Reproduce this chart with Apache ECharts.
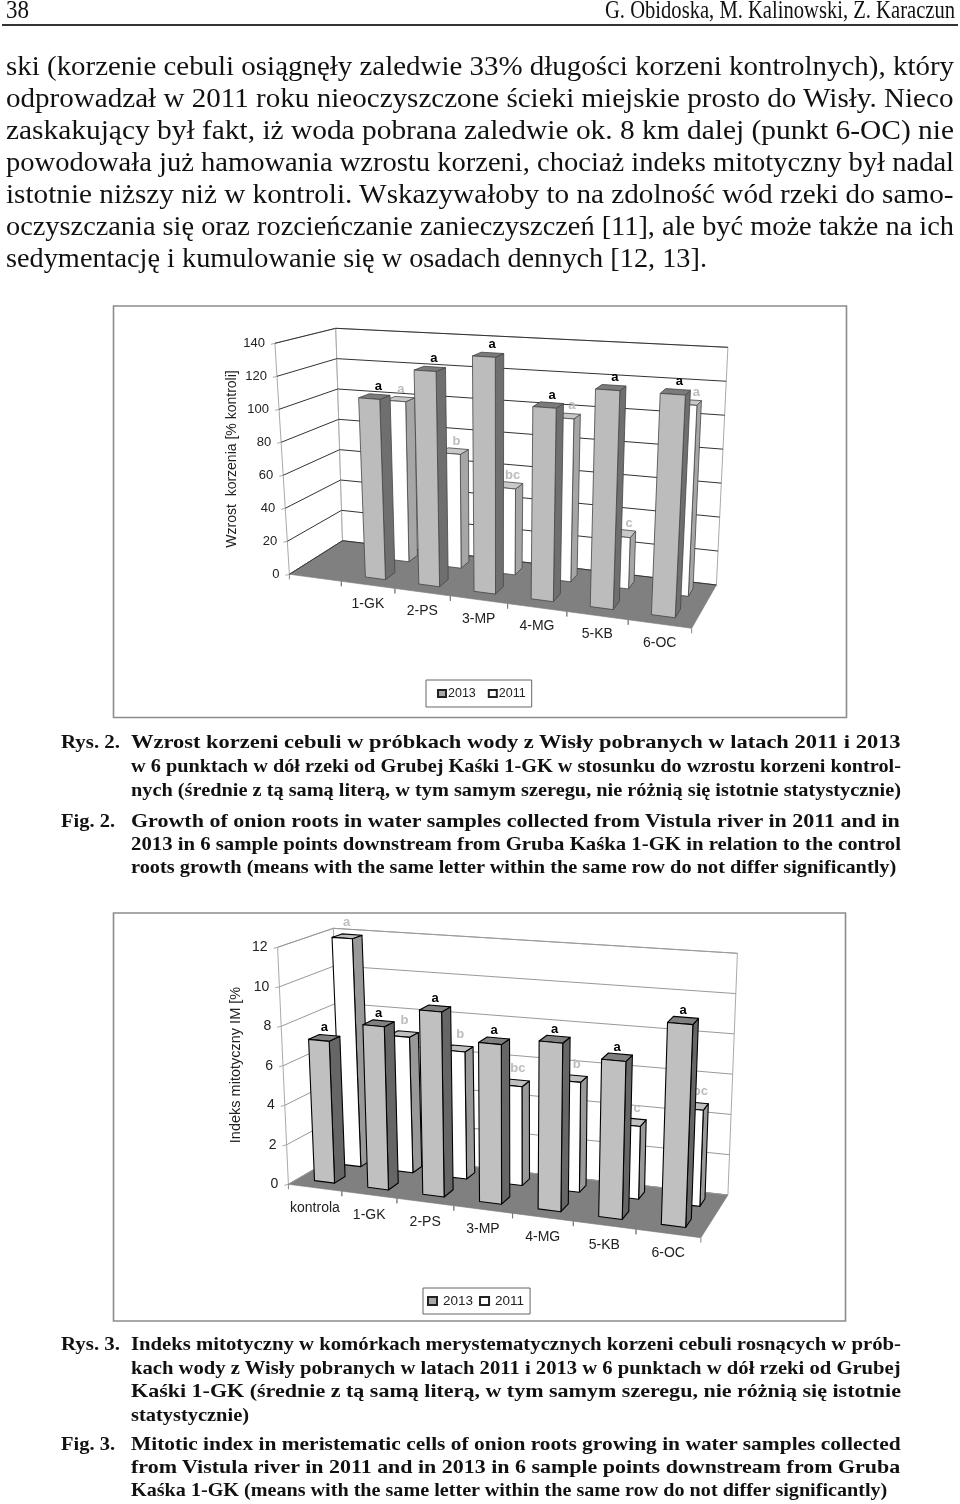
<!DOCTYPE html>
<html lang="pl"><head><meta charset="utf-8">
<style>
html,body{margin:0;padding:0;background:#fff;width:960px;height:1504px;overflow:hidden}
#chart{position:absolute;left:0;top:0;width:960px;height:1504px;filter:blur(0.35px)}
#text{filter:blur(0.25px)}
.t{position:absolute;white-space:pre;color:#111;font-family:"Liberation Serif",serif;transform-origin:0 100%;line-height:1}
#rule{position:absolute;left:2px;top:24px;width:956px;height:2px;background:#333}
</style>
<script src="https://cdn.jsdelivr.net/npm/echarts@6/dist/echarts.min.js"></script>
</head><body>
<div id="rule"></div>
<div id="text"></div>
<div id="chart"></div>
<script>
// ---------- chart data ----------
const categoriesA = ['', '1-GK', '2-PS', '3-MP', '4-MG', '5-KB', '6-OC'];
const growth2013 = [null, 108, 127, 137.5, 110.5, 123, 123];
const growth2011 = [null, 100, 70, 52, 97, 30, 110];
const letters2013A = ['', 'a', 'a', 'a', 'a', 'a', 'a'];
const letters2011A = ['', 'a', 'b', 'bc', 'a', 'c', 'a'];
const ticksA = [0, 20, 40, 60, 80, 100, 120, 140];

const categoriesB = ['kontrola', '1-GK', '2-PS', '3-MP', '4-MG', '5-KB', '6-OC'];
const mitotic2013 = [7.2, 8.2, 9.2, 7.85, 8.2, 7.6, 9.65];
const mitotic2011 = [11.9, 7.0, 6.5, 5.0, 5.5, 3.6, 4.7];
const letters2013B = ['a', 'a', 'a', 'a', 'a', 'a', 'a'];
const letters2011B = ['a', 'b', 'b', 'bc', 'b', 'c', 'bc'];
const ticksB = [0, 2, 4, 6, 8, 10, 12];

const seriesNames = ['2013', '2011'];

// ---------- page text ----------
const bodyLines = [
 ['ski (korzenie cebuli osiągnęły zaledwie 33% długości korzeni kontrolnych), który', 6, 76, 948],
 ['odprowadzał w 2011 roku nieoczyszczone ścieki miejskie prosto do Wisły. Nieco', 6, 108, 948],
 ['zaskakujący był fakt, iż woda pobrana zaledwie ok. 8 km dalej (punkt 6-OC) nie', 6, 140, 948],
 ['powodowała już hamowania wzrostu korzeni, chociaż indeks mitotyczny był nadal', 6, 172, 948],
 ['istotnie niższy niż w kontroli. Wskazywałoby to na zdolność wód rzeki do samo-', 6, 204, 948],
 ['oczyszczania się oraz rozcieńczanie zanieczyszczeń [11], ale być może także na ich', 6, 236, 948],
 ['sedymentację i kumulowanie się w osadach dennych [12, 13].', 6, 268, 701]
];
const capLines = [
 ['Rys. 2.', 61, 749, 59], ['Wzrost korzeni cebuli w próbkach wody z Wisły pobranych w latach 2011 i 2013', 130.5, 749, 770],
 ['w 6 punktach w dół rzeki od Grubej Kaśki 1-GK w stosunku do wzrostu korzeni kontrol-', 130.5, 773, 770],
 ['nych (średnie z tą samą literą, w tym samym szeregu, nie różnią się istotnie statystycznie)', 130.5, 797, 770],
 ['Fig. 2.', 61, 828, 54], ['Growth of onion roots in water samples collected from Vistula river in 2011 and in', 130.5, 828, 770],
 ['2013 in 6 sample points downstream from Gruba Kaśka 1-GK in relation to the control', 130.5, 851, 770],
 ['roots growth (means with the same letter within the same row do not differ significantly)', 130.5, 874, 766],
 ['Rys. 3.', 61, 1351, 59], ['Indeks mitotyczny w komórkach merystematycznych korzeni cebuli rosnących w prób-', 130.5, 1351, 770],
 ['kach wody z Wisły pobranych w latach 2011 i 2013 w 6 punktach w dół rzeki od Grubej', 130.5, 1375, 770],
 ['Kaśki 1-GK (średnie z tą samą literą, w tym samym szeregu, nie różnią się istotnie', 130.5, 1398, 770],
 ['statystycznie)', 130.5, 1422, 118],
 ['Fig. 3.', 61, 1451, 54], ['Mitotic index in meristematic cells of onion roots growing in water samples collected', 130.5, 1451, 770],
 ['from Vistula river in 2011 and in 2013 in 6 sample points downstream from Gruba', 130.5, 1474, 770],
 ['Kaśka 1-GK (means with the same letter within the same row do not differ significantly)', 130.5, 1497, 757]
];
const headLines = [['38', 6, 20, 23], ['G. Obidoska, M. Kalinowski, Z. Karaczun', 605, 20, 350]];

const ctx = document.createElement('canvas').getContext('2d');
function addLine(l, size, weight) {
  const d = document.createElement('div');
  d.className = 't';
  d.textContent = l[0];
  d.style.left = l[1] + 'px';
  d.style.top = (l[2] - size * 0.89) + 'px';
  d.style.fontSize = size + 'px';
  d.style.fontWeight = weight;
  ctx.font = weight + ' ' + size + 'px "Liberation Serif"';
  const w = ctx.measureText(l[0]).width;
  d.style.transform = 'scaleX(' + (l[3] / w) + ')';
  document.getElementById('text').appendChild(d);
}
bodyLines.forEach(l => addLine(l, 27.5, 'normal'));
capLines.forEach(l => addLine(l, 19.5, 'bold'));
headLines.forEach(l => addLine(l, 26, 'normal'));

// ---------- 3D projection layouts ----------
const layoutA = {
  frame: [113.5, 306, 733, 411.5],
  FLB: [289.4, 574.3], FRB: [691.7, 628.3], BLB: [342.5, 540.7], BRB: [716.4, 585],
  FLT: [274.9, 343.3], FRT: [705, 369.7], BLT: [335.8, 328.3], BRT: [727.9, 347.3],
  k: 1.125, edge: '#444', edgeW: 0.8, grid: '#333', wall: '#aaa',
  title: 'Wzrost  korzenia [% kontroli]', titleX: 232, titleY: 459, titleSize: 14,
  catDx: 0, catDy: 19, catSize: 14, tickSize: 13, uA: 0.29, uB: 0.67,
  backLetter: [-2, 12, 10], frontLetter: [4, 0, 10],
  side: ['#6f6f6f', '#a6a6a6'], top: ['#7b7b7b', '#c8c8c8'], front: ['#bcbcbc', '#ffffff']
};
const layoutB = {
  frame: [113.5, 913, 732, 408],
  FLB: [288.4, 1184.3], FRB: [700.9, 1237.7], BLB: [343.5, 1152.3], BRB: [727.9, 1195],
  FLT: [277.6, 947.3], FRT: [711, 982], BLT: [333.4, 928.3], BRT: [737.4, 953.3],
  k: 1.12, edge: '#000', edgeW: 1.1, grid: '#999', wall: '#aaa',
  title: 'Indeks mitotyczny IM [%', titleX: 236, titleY: 1065, titleSize: 14.5,
  catDx: 0, catDy: 20, catSize: 14, tickSize: 14, uA: 0.31, uB: 0.69,
  backLetter: [-1, 8, 14], frontLetter: [0, 0, 10],
  side: ['#666666', '#999999'], top: ['#808080', '#c0c0c0'], front: ['#c0c0c0', '#ffffff']
};
const SANS = '"Liberation Sans",Arial,sans-serif';

const lerp2 = (a, b, t) => [a[0] + (b[0] - a[0]) * t, a[1] + (b[1] - a[1]) * t];
function project(L, u, v, d) {
  const w = u / (u + (1 - u) * L.k);
  const bot = lerp2(lerp2(L.FLB, L.FRB, w), lerp2(L.BLB, L.BRB, w), d);
  const top = lerp2(lerp2(L.FLT, L.FRT, w), lerp2(L.BLT, L.BRT, w), d);
  return lerp2(bot, top, v);
}
function norm(params, pt) {
  const c = params.coordSys;
  return [(pt[0] - c.x) / c.width, (c.y + c.height - pt[1]) / c.height];
}

function buildSeries(L, gridIdx, cats, v13, v11, l13, l11, ticks, base) {
  const common = { type: 'custom', coordinateSystem: 'cartesian2d', xAxisIndex: gridIdx, yAxisIndex: gridIdx, silent: true, clip: false, animation: false };
  const out = [];
  // frame + walls
  out.push(Object.assign({}, common, {
    z: base, encode: { x: 0, y: 1 }, data: [[0, 0]],
    renderItem: function () {
      const f = L.frame;
      return { type: 'group', children: [
        { type: 'rect', shape: { x: f[0], y: f[1], width: f[2], height: f[3] }, style: { fill: '#fff', stroke: '#8c8c8c', lineWidth: 1.6 } },
        { type: 'polygon', shape: { points: [L.FLB, L.BLB, L.BLT, L.FLT] }, style: { fill: '#fff', stroke: L.wall, lineWidth: 1 } },
        { type: 'polygon', shape: { points: [L.BLB, L.BRB, L.BRT, L.BLT] }, style: { fill: '#fff', stroke: L.wall, lineWidth: 1 } },
        { type: 'polygon', shape: { points: [L.FLB, L.FRB, L.BRB, L.BLB] }, style: { fill: '#808080', stroke: '#777', lineWidth: 0.6 } },
        { type: 'text', x: L.titleX, y: L.titleY, rotation: Math.PI / 2, style: { text: L.title, font: L.titleSize + 'px ' + SANS, fill: '#222', align: 'center', verticalAlign: 'middle' } }
      ] };
    }
  }));
  // gridlines & value labels
  out.push(Object.assign({}, common, {
    z: base + 1, encode: { x: 0, y: 1 }, data: ticks.map(t => [0, t]),
    renderItem: function (params, api) {
      const v = norm(params, api.coord([api.value(0), api.value(1)]))[1];
      const a = project(L, 0, v, 0), b = project(L, 0, v, 1), c = project(L, 1, v, 1);
      return { type: 'group', children: [
        { type: 'polyline', shape: { points: [a, b, c] }, style: { fill: 'none', stroke: L.grid, lineWidth: 1 } },
        { type: 'line', shape: { x1: a[0] - 4, y1: a[1] + 1, x2: a[0], y2: a[1] }, style: { stroke: L.wall, lineWidth: 1 } },
        { type: 'text', style: { text: String(api.value(1)), x: a[0] - 10, y: a[1], font: L.tickSize + 'px ' + SANS, fill: '#222', align: 'right', verticalAlign: 'middle' } }
      ] };
    }
  }));
  // category ticks & labels
  out.push(Object.assign({}, common, {
    z: base + 2, encode: { x: 0, y: 1 }, data: cats.map((_, i) => [i, 0]),
    renderItem: function (params, api) {
      const i = api.value(0), c = params.coordSys, bw = api.size([1, 0])[0];
      const mid = norm(params, api.coord([i, 0]))[0];
      const du = bw / c.width / 2;
      const t0 = project(L, mid - du, 0, 0), t1 = project(L, mid + du, 0, 0), m = project(L, mid, 0, 0);
      const ch = [
        { type: 'line', shape: { x1: t0[0], y1: t0[1], x2: t0[0], y2: t0[1] + 5 }, style: { stroke: '#777', lineWidth: 0.9 } },
        { type: 'line', shape: { x1: t1[0], y1: t1[1], x2: t1[0], y2: t1[1] + 5 }, style: { stroke: '#777', lineWidth: 0.9 } }
      ];
      if (cats[i]) ch.push({ type: 'text', style: { text: cats[i], x: m[0] + L.catDx, y: m[1] + L.catDy, font: L.catSize + 'px ' + SANS, fill: '#222', align: 'center', verticalAlign: 'middle' } });
      return { type: 'group', children: ch };
    }
  }));
  // bars: back row first, front row last
  const rows = [
    { name: seriesNames[1], vals: v11, letters: l11, idx: 1, d0: 0.68, d1: 0.86, letterFill: '#bdbdbd', lo: L.backLetter },
    { name: seriesNames[0], vals: v13, letters: l13, idx: 0, d0: 0.18, d1: 0.38, letterFill: '#000', lo: L.frontLetter }
  ];
  rows.forEach((r, ri) => {
    out.push(Object.assign({}, common, {
      name: r.name, z: base + 3 + ri, encode: { x: 0, y: 1 },
      itemStyle: { color: r.idx === 0 ? '#a8a8a8' : '#ffffff', borderColor: '#222', borderWidth: 1 },
      data: r.vals.map((v, i) => [i, v]),
      renderItem: function (params, api) {
        const i = api.value(0), val = api.value(1);
        if (val == null || isNaN(val)) return;
        const c = params.coordSys, bw = api.size([1, 0])[0] / c.width;
        const base0 = norm(params, api.coord([i, 0]));
        const vv = norm(params, api.coord([i, val]))[1];
        const left = base0[0] - bw / 2;
        const ua = left + L.uA * bw, ub = left + L.uB * bw;
        const P = (u, v, d) => project(L, u, v, d);
        const st = (fill) => ({ fill: fill, stroke: L.edge, lineWidth: L.edgeW, lineJoin: 'round' });
        const tc = P((ua + ub) / 2, vv, (r.d0 + r.d1) / 2);
        return { type: 'group', children: [
          { type: 'polygon', shape: { points: [P(ub, 0, r.d0), P(ub, 0, r.d1), P(ub, vv, r.d1), P(ub, vv, r.d0)] }, style: st(L.side[r.idx]) },
          { type: 'polygon', shape: { points: [P(ua, vv, r.d0), P(ub, vv, r.d0), P(ub, vv, r.d1), P(ua, vv, r.d1)] }, style: st(L.top[r.idx]) },
          { type: 'polygon', shape: { points: [P(ua, 0, r.d0), P(ub, 0, r.d0), P(ub, vv, r.d0), P(ua, vv, r.d0)] }, style: st(L.front[r.idx]) },
          { type: 'text', style: { text: r.letters[i], x: tc[0] + r.lo[0] + r.lo[1] * base0[0], y: tc[1] - r.lo[2], font: 'bold 13px ' + SANS, fill: r.letterFill, align: 'center', verticalAlign: 'middle' } }
        ] };
      }
    }));
  });
  return out;
}

const legendBase = { data: seriesNames, icon: 'rect', selectedMode: false, borderColor: '#666', borderWidth: 1, orient: 'horizontal' };

const option = {
  animation: false,
  backgroundColor: 'transparent',
  grid: [
    { left: 289, top: 343, width: 403, height: 231 },
    { left: 288, top: 947, width: 413, height: 237 }
  ],
  xAxis: [
    { gridIndex: 0, type: 'category', data: categoriesA, show: false },
    { gridIndex: 1, type: 'category', data: categoriesB, show: false }
  ],
  yAxis: [
    { gridIndex: 0, type: 'value', min: 0, max: 140, interval: 20, show: false },
    { gridIndex: 1, type: 'value', min: 0, max: 12, interval: 2, show: false }
  ],
  legend: [
    Object.assign({}, legendBase, { left: 426, top: 680, padding: [7, 6, 7, 11], itemGap: 12, itemWidth: 8, itemHeight: 7, textStyle: { fontFamily: SANS, fontSize: 12.5, color: '#222', padding: [0, 0, 0, -3] } }),
    Object.assign({}, legendBase, { left: 423, top: 1288, padding: [6, 6, 6, 4], itemGap: 6, itemWidth: 9, itemHeight: 8, textStyle: { fontFamily: SANS, fontSize: 13.5, color: '#222', padding: [0, 0, 0, 1] } })
  ],
  series: buildSeries(layoutA, 0, categoriesA, growth2013, growth2011, letters2013A, letters2011A, ticksA, 2)
    .concat(buildSeries(layoutB, 1, categoriesB, mitotic2013, mitotic2011, letters2013B, letters2011B, ticksB, 2))
};
echarts.init(document.getElementById('chart'), null, { renderer: 'canvas' }).setOption(option);
</script>
</body></html>
